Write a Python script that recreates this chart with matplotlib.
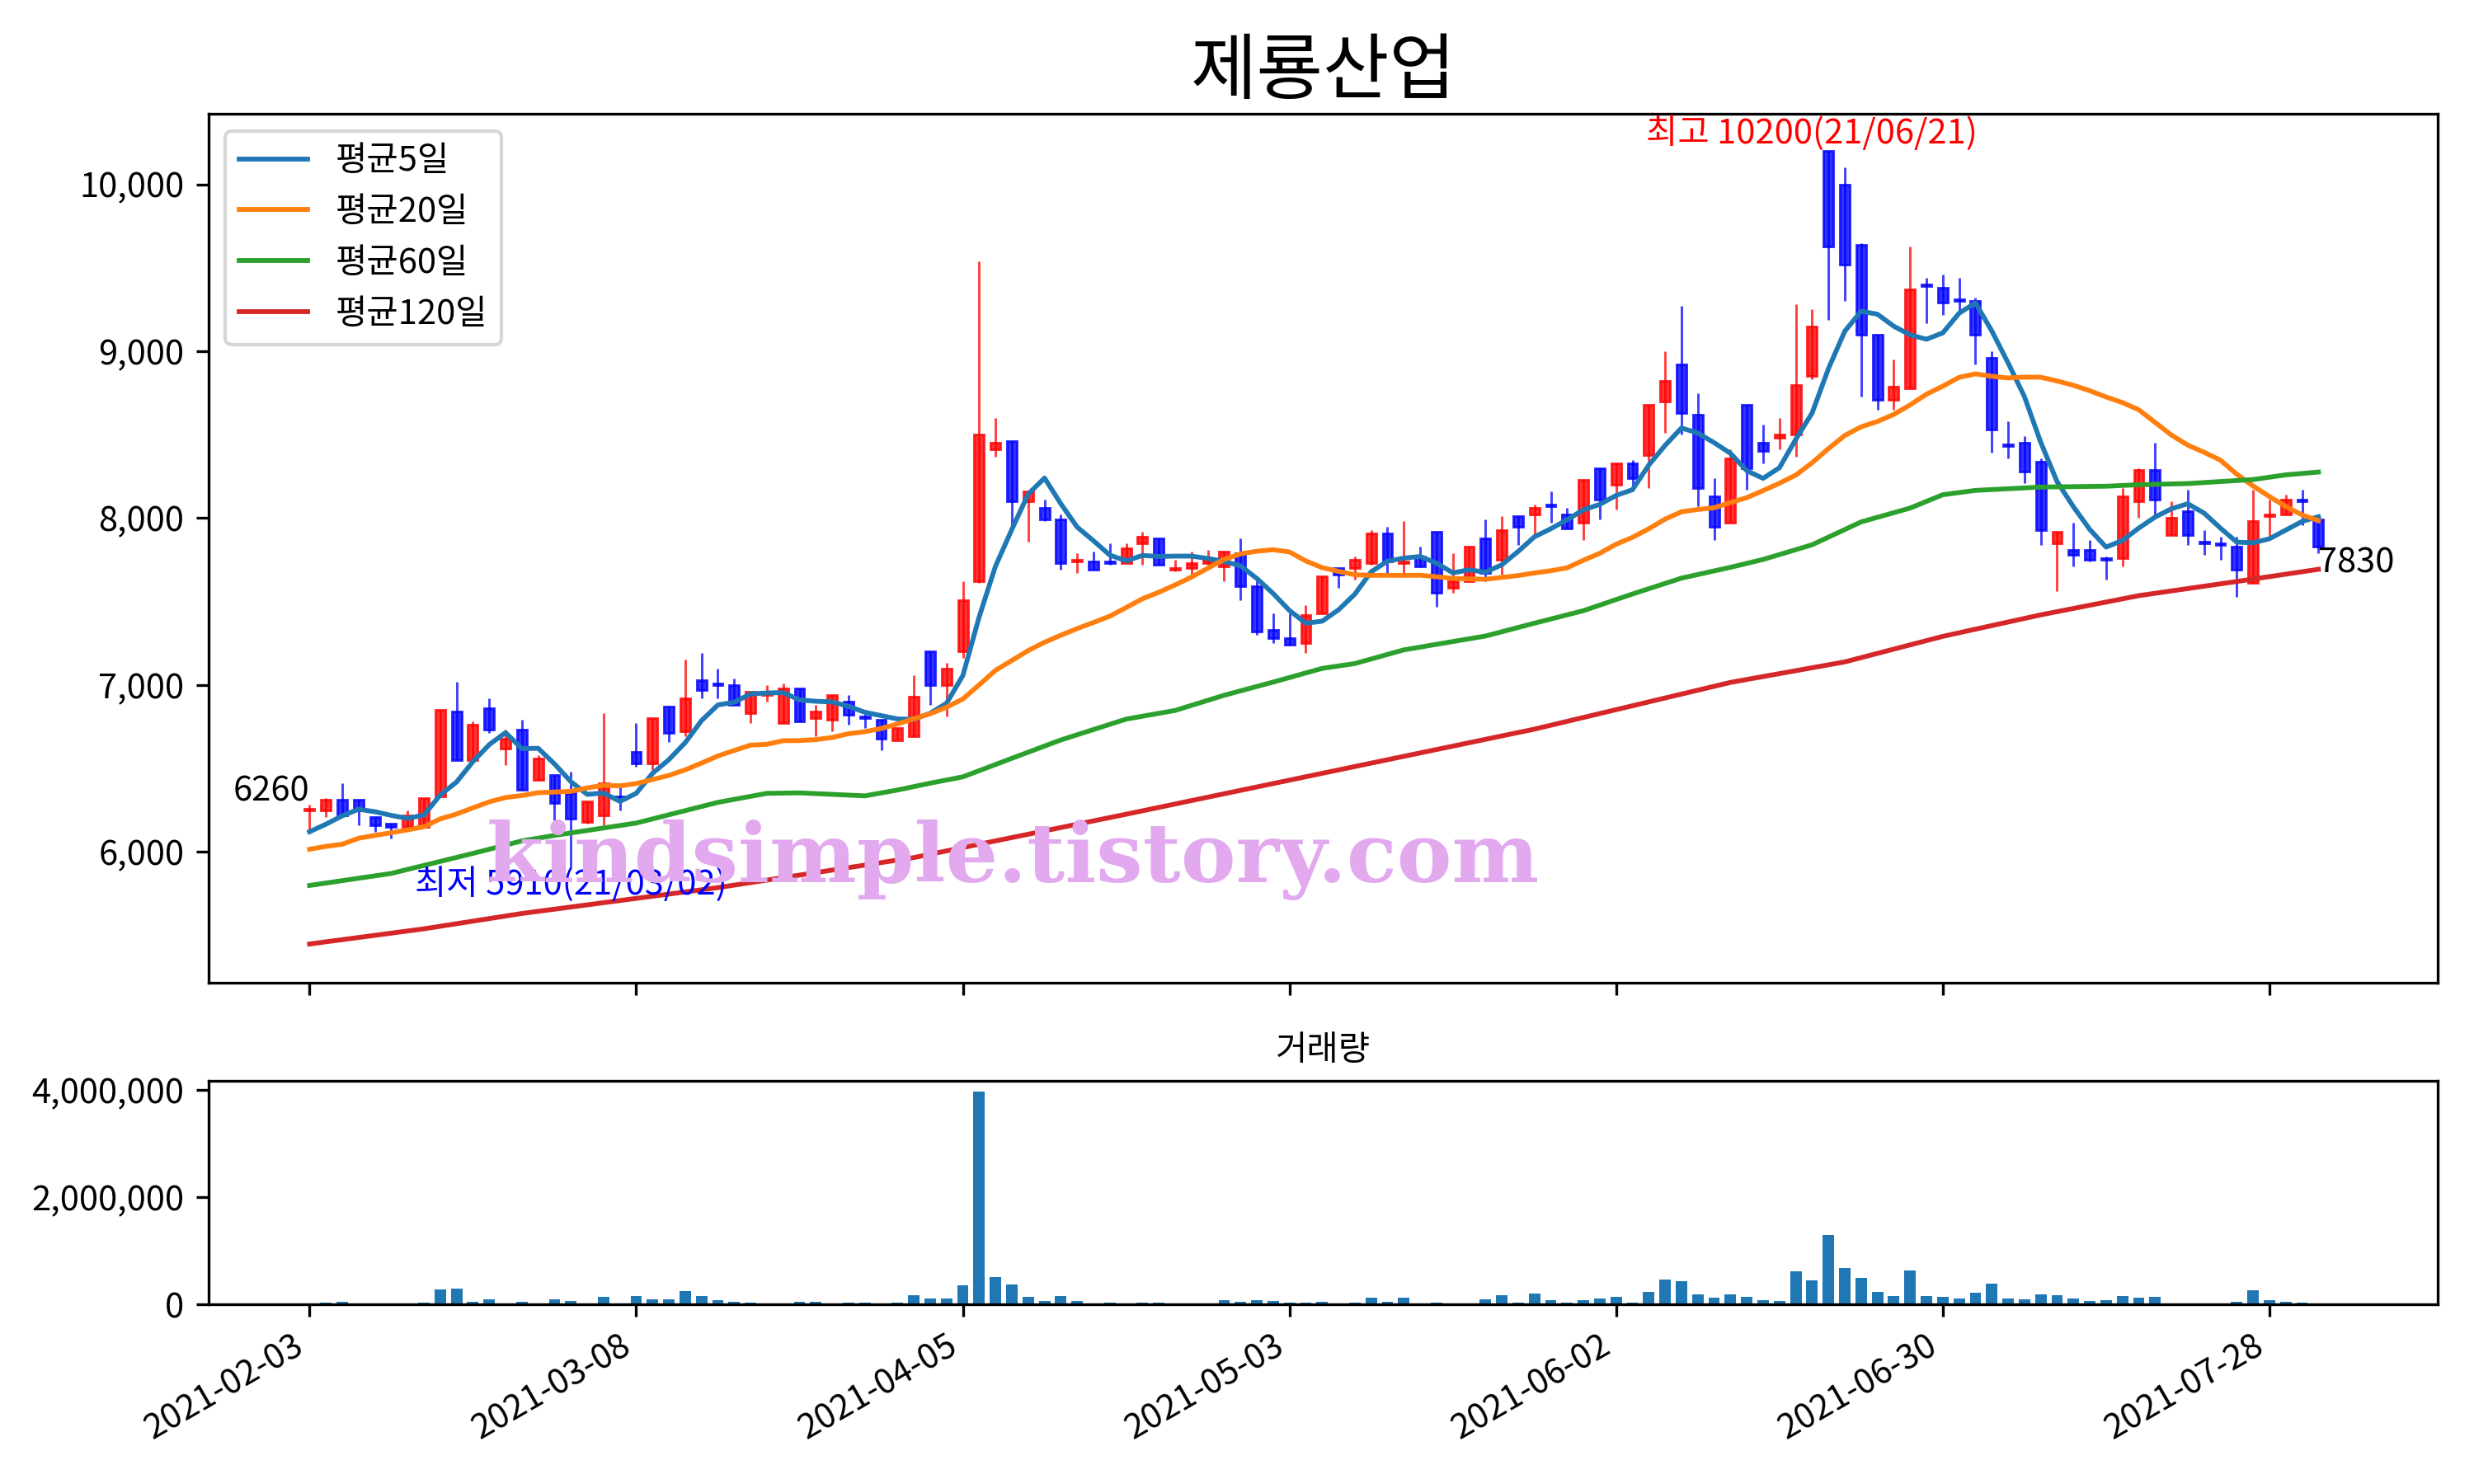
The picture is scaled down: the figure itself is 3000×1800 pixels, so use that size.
import numpy as np
import pandas as pd
import matplotlib
matplotlib.use('Agg')
import matplotlib.pyplot as plt
from matplotlib.ticker import FuncFormatter, MultipleLocator

plt.rcParams['font.family'] = ['Noto Sans CJK KR', 'DejaVu Sans']
plt.rcParams['axes.unicode_minus'] = False

title = '제룡산업'
holidays = ['2021-02-11', '2021-02-12', '2021-03-01', '2021-05-05', '2021-05-19']
dates = pd.bdate_range('2021-02-03', '2021-08-02', freq='C', holidays=holidays)

opens = [6250, 6250, 6310, 6310, 6210, 6170, 6150, 6150, 6330, 6840,
         6550, 6860, 6620, 6730, 6430, 6460, 6350, 6180, 6220, 6330,
         6600, 6530, 6870, 6720, 7030, 7010, 7000, 6830, 6940, 6770,
         6980, 6800, 6790, 6900, 6810, 6790, 6670, 6690, 7200, 7000,
         7200, 7620, 8410, 8460, 8100, 8060, 7990, 7740, 7740, 7740,
         7730, 7850, 7880, 7690, 7700, 7730, 7710, 7790, 7590, 7330,
         7280, 7250, 7430, 7700, 7700, 7730, 7910, 7730, 7770, 7920,
         7580, 7620, 7880, 7750, 8010, 8020, 8080, 8020, 7970, 8300,
         8200, 8330, 8380, 8700, 8920, 8620, 8130, 7970, 8680, 8450,
         8480, 8500, 8850, 10200, 10000, 9640, 9100, 8710, 8780, 9400,
         9380, 9310, 9300, 8960, 8440, 8450, 8340, 7850, 7810, 7810,
         7760, 7760, 8100, 8290, 7900, 8040, 7860, 7850, 7830, 7610,
         8010, 8020, 8110, 7990]
highs = [6280, 6320, 6410, 6310, 6210, 6170, 6250, 6320, 6850, 7020,
         6780, 6920, 6730, 6790, 6580, 6460, 6480, 6300, 6830, 6400,
         6770, 6800, 6870, 7150, 7190, 7100, 7040, 6960, 7000, 7010,
         6980, 6880, 6940, 6940, 6850, 6790, 6740, 7060, 7200, 7130,
         7620, 9540, 8600, 8460, 8160, 8110, 8020, 7790, 7800, 7850,
         7850, 7920, 7880, 7750, 7800, 7810, 7800, 7880, 7630, 7430,
         7430, 7480, 7650, 7700, 7770, 7930, 7950, 7980, 7830, 7920,
         7790, 7830, 7990, 8010, 8010, 8080, 8160, 8060, 8230, 8300,
         8330, 8350, 8680, 9000, 9270, 8750, 8240, 8410, 8680, 8560,
         8600, 9280, 9250, 10200, 10100, 9650, 9100, 8950, 9630, 9440,
         9460, 9440, 9320, 9000, 8580, 8490, 8360, 7920, 7970, 7870,
         7770, 8180, 8300, 8450, 8100, 8170, 7930, 7890, 7890, 8170,
         8110, 8140, 8170, 7990]
lows = [6130, 6210, 6210, 6160, 6120, 6080, 6150, 6150, 6330, 6550,
        6550, 6710, 6520, 6370, 6430, 6190, 5910, 6170, 6160, 6250,
        6510, 6490, 6660, 6690, 6920, 6920, 6880, 6770, 6900, 6770,
        6780, 6690, 6720, 6760, 6740, 6610, 6670, 6690, 6880, 6810,
        7160, 7610, 8370, 7950, 7860, 7980, 7690, 7670, 7690, 7720,
        7730, 7720, 7720, 7680, 7660, 7720, 7620, 7510, 7300, 7250,
        7240, 7190, 7430, 7580, 7630, 7720, 7670, 7670, 7710, 7470,
        7550, 7620, 7620, 7660, 7840, 7900, 7970, 7940, 7870, 7990,
        8050, 8180, 8180, 8510, 8500, 8070, 7870, 7970, 8170, 8330,
        8410, 8370, 8830, 9190, 9300, 8730, 8650, 8650, 8780, 9170,
        9220, 9230, 8920, 8390, 8360, 8210, 7840, 7560, 7710, 7740,
        7630, 7710, 8000, 8020, 7900, 7840, 7780, 7750, 7530, 7610,
        7890, 8020, 7960, 7790]
closes = [6260, 6310, 6220, 6250, 6160, 6150, 6220, 6320, 6850, 6550,
          6760, 6730, 6680, 6370, 6560, 6290, 6200, 6300, 6410, 6310,
          6530, 6800, 6710, 6920, 6970, 7000, 6880, 6960, 6950, 6980,
          6780, 6840, 6940, 6820, 6800, 6680, 6740, 6930, 7000, 7100,
          7510, 8500, 8450, 8100, 8160, 7990, 7730, 7750, 7690, 7730,
          7820, 7890, 7720, 7700, 7730, 7750, 7800, 7590, 7320, 7280,
          7240, 7420, 7650, 7660, 7750, 7910, 7740, 7740, 7710, 7550,
          7620, 7830, 7670, 7930, 7950, 8060, 8070, 7940, 8230, 8110,
          8330, 8240, 8680, 8820, 8630, 8180, 7950, 8360, 8300, 8400,
          8500, 8800, 9150, 9630, 9520, 9100, 8710, 8790, 9370, 9390,
          9290, 9300, 9100, 8530, 8430, 8280, 7930, 7920, 7780, 7750,
          7750, 8130, 8290, 8110, 8000, 7900, 7850, 7840, 7690, 7980,
          8020, 8110, 8100, 7830]
volumes = [25000, 40000, 56000, 25000, 25000, 10000, 25000, 40000, 284000, 300000,
           56000, 100000, 25000, 56000, 25000, 100000, 71000, 25000, 147000, 25000,
           162000, 100000, 100000, 254000, 162000, 86000, 56000, 40000, 25000, 25000,
           56000, 56000, 25000, 40000, 40000, 25000, 40000, 178000, 117000, 117000,
           360000, 3970000, 513000, 376000, 147000, 71000, 162000, 71000, 25000, 40000,
           25000, 40000, 40000, 25000, 10000, 10000, 86000, 56000, 86000, 71000,
           40000, 40000, 56000, 25000, 40000, 132000, 56000, 132000, 10000, 40000,
           25000, 25000, 100000, 178000, 40000, 208000, 86000, 40000, 86000, 117000,
           147000, 40000, 239000, 467000, 437000, 193000, 132000, 193000, 147000, 86000,
           71000, 619000, 452000, 1290000, 680000, 497000, 239000, 162000, 635000, 162000,
           147000, 117000, 223000, 391000, 117000, 100000, 193000, 178000, 117000, 71000,
           86000, 162000, 132000, 147000, 25000, 10000, 10000, 10000, 56000, 269000,
           86000, 56000, 40000, 10000]

# moving averages before a full window exists
ma5_head = [6120, 6165, 6215, 6255]
ma20_head = [6015, 6032, 6045, 6081, 6098, 6114, 6131, 6150, 6197, 6226,
             6263, 6299, 6325, 6337, 6354, 6358, 6362, 6383, 6398]
ma60_idx = [0, 5, 10, 13, 15, 20, 25, 28, 30, 34, 36, 38, 40, 43, 46, 50, 53, 56, 59, 62,
            64, 67, 70, 72, 75, 78, 81, 84, 87, 89, 92, 95, 98, 100, 102, 106, 110, 112,
            115, 119, 121, 123]
ma60_val = [5798, 5870, 5990, 6065, 6098, 6172, 6296, 6350, 6353, 6335, 6370, 6411, 6449,
            6560, 6670, 6795, 6847, 6938, 7017, 7099, 7128, 7210, 7260, 7293, 7370, 7445,
            7545, 7640, 7705, 7752, 7840, 7977, 8060, 8140, 8166, 8186, 8191, 8200, 8207,
            8231, 8259, 8276]
ma120_idx = [0, 7, 13, 25, 37, 50, 62, 75, 87, 94, 100, 106, 112, 118, 123]
ma120_val = [5447, 5538, 5630, 5785, 5965, 6225, 6470, 6735, 7015, 7138, 7291, 7420,
             7535, 7620, 7693]

df = pd.DataFrame({'Open': opens, 'High': highs, 'Low': lows, 'Close': closes,
                   'Volume': volumes}, index=dates)
x = np.arange(len(df))

ma5 = df['Close'].rolling(5).mean().values
ma5[:len(ma5_head)] = ma5_head
ma20 = df['Close'].rolling(20).mean().values
ma20[:len(ma20_head)] = ma20_head

fig = plt.figure(figsize=(10, 6), dpi=300)
ax = fig.add_axes([0.0842, 0.3378, 0.9011, 0.5857])
ax2 = fig.add_axes([0.0842, 0.1209, 0.9011, 0.1510], sharex=ax)

up = df['Close'] > df['Open']
colors = np.where(up, 'red', 'blue')
body_lo = np.minimum(df['Open'], df['Close'])
body_h = np.abs(df['Close'] - df['Open'])

ax.vlines(x, df['Low'], df['High'], colors=colors, linewidth=0.7, alpha=0.75)
ax.bar(x, body_h, bottom=body_lo, width=0.6, color=colors, edgecolor=colors,
       linewidth=0.7, alpha=0.8)

ax.plot(x, ma5, color='C0', linewidth=1.4, label='평균5일')
ax.plot(x, ma20, color='C1', linewidth=1.4, label='평균20일')
ax.plot(ma60_idx, ma60_val, color='C2', linewidth=1.4, label='평균60일')
ax.plot(ma120_idx, ma120_val, color='C3', linewidth=1.4, label='평균120일')

ax.legend(loc='upper left')
ax.set_title(title, fontsize=21)

# high / low / first / last labels
hi = int(np.argmax(df['High'].values))
lo = int(np.argmin(df['Low'].values))
ax.text(hi - 1, df['High'].iloc[hi], '최고 %d(%s)' % (df['High'].iloc[hi], dates[hi].strftime('%y/%m/%d')),
        color='red', ha='center', va='bottom')
ax.text(lo, df['Low'].iloc[lo], '최저 %d(%s)' % (df['Low'].iloc[lo], dates[lo].strftime('%y/%m/%d')),
        color='blue', ha='center', va='top')
ax.text(x[0], closes[0], str(closes[0]), ha='right', va='bottom')
ax.text(x[-1], closes[-1], str(closes[-1]), ha='left', va='top')

ax.text(0.361, 0.141, 'kindsimple.tistory.com', transform=ax.transAxes,
        fontsize=24, fontweight='bold', family='DejaVu Serif', color='#e2a9ee',
        ha='center', va='center', zorder=10)

ax.set_xlim(-6.2, 130.3)
ax.set_ylim(5215, 10425)
ax.yaxis.set_major_formatter(FuncFormatter(lambda v, p: '{:,.0f}'.format(v)))
ax.tick_params(axis='x', labelbottom=False)

ax2.bar(x, df['Volume'], width=0.7, color='C0')
ax2.set_title('거래량', fontsize=10)
ax2.set_ylim(0, 4180000)
ax2.yaxis.set_major_locator(MultipleLocator(2000000))
ax2.yaxis.set_major_formatter(FuncFormatter(lambda v, p: '{:,.0f}'.format(v)))

tick_idx = list(range(0, len(df), 20))
ax2.set_xticks(tick_idx)
ax2.set_xticklabels([dates[i].strftime('%Y-%m-%d') for i in tick_idx], rotation=30, ha='right')

fig.savefig('out.png')
